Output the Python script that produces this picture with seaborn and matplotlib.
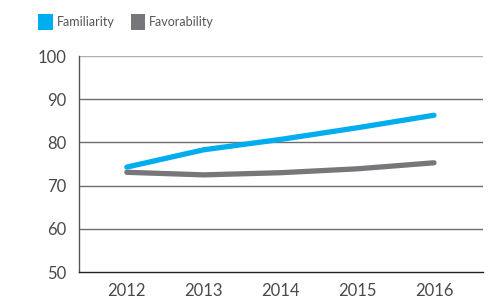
import matplotlib
matplotlib.use("Agg")
import matplotlib.pyplot as plt
import seaborn as sns
import pandas as pd
from matplotlib.patches import Patch

years = [2012, 2013, 2014, 2015, 2016]
familiarity = [74.3, 78.3, 80.7, 83.4, 86.3]
favorability = [73.1, 72.5, 73.0, 73.9, 75.3]
series_names = ["Familiarity", "Favorability"]
colors = ["#00AEEF", "#77777B"]
y_ticks = [50, 60, 70, 80, 90, 100]

df = pd.DataFrame({
    "Year": years * 2,
    "Value": familiarity + favorability,
    "Series": [series_names[0]] * len(years) + [series_names[1]] * len(years),
})

sns.set_style("white")
plt.rcParams["font.family"] = ["Lato", "DejaVu Sans"]

fig = plt.figure(figsize=(4.93, 3.03), dpi=100)
ax = fig.add_axes([0.160, 0.102, 0.820, 0.713])

sns.lineplot(data=df, x="Year", y="Value", hue="Series", palette=colors,
             linewidth=3.8, ax=ax, legend=False, solid_capstyle="round")

ax.set_xlim(2011.375, 2016.64)
ax.set_ylim(50, 100)
ax.set_yticks(y_ticks)
ax.set_xticks(years)
ax.set_xlabel("")
ax.set_ylabel("")

for yv in y_ticks[1:]:
    ax.axhline(yv, color="#B0B0B0" if yv == 100 else "#6E6E6E", lw=1.0, zorder=0)

for s in ["top", "right"]:
    ax.spines[s].set_visible(False)
ax.spines["left"].set_color("#555555")
ax.spines["left"].set_linewidth(1.0)
ax.spines["bottom"].set_color("#222222")
ax.spines["bottom"].set_linewidth(1.0)

ax.tick_params(axis="y", length=5, width=1.0, color="#6E6E6E", labelsize=12,
               labelcolor="#4A4A4A", pad=4)
ax.tick_params(axis="x", direction="inout", length=10, width=1.0, color="#222222",
               labelsize=12, labelcolor="#4A4A4A", pad=3)

handles = [Patch(facecolor=c, edgecolor="none") for c in colors]
fig.legend(handles, series_names, loc="upper left", bbox_to_anchor=(0.055, 0.99),
           ncol=2, frameon=False, fontsize=9, handlelength=1.15, handleheight=1.5,
           handletextpad=0.3, columnspacing=1.3, labelcolor="#555555")

fig.savefig("out.png", dpi=100)
